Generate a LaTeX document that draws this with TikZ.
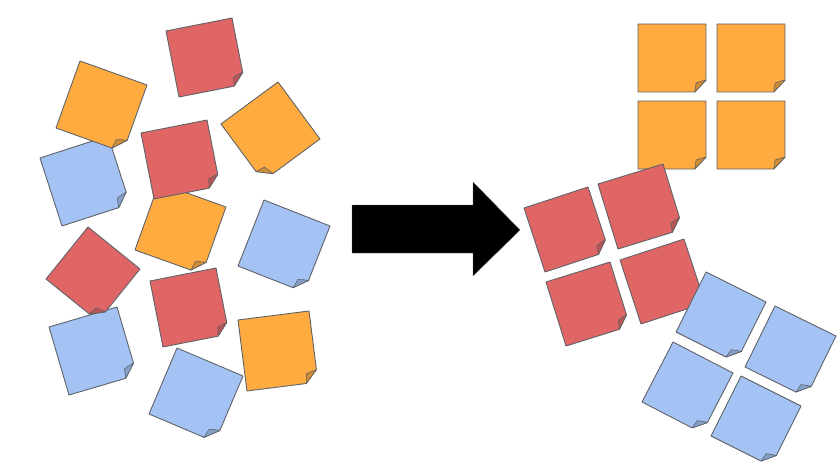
\documentclass[tikz,border=0pt]{standalone}
\definecolor{nred}{HTML}{E06666}
\definecolor{norange}{HTML}{FFAB40}
\definecolor{nblue}{HTML}{A4C2F4}
\definecolor{nline}{HTML}{5F6368}
\tikzset{
  notebody/.style={draw=nline,line width=0.9pt,line join=round},
  notefold/.style={draw=nline,line width=0.6pt,line join=round},
}
% colour, top-left x, y, side vector x, y (picture pixels, y downward)
\newcommand{\stickynote}[5]{%
  \begin{scope}[shift={(#2pt,-#3pt)},x={(#4pt,{-(#5)*1pt})},y={({-(#5)*1pt},{-(#4)*1pt})}]
    \path[notebody,fill=#1] (0,0) -- (1,0) -- (1,.825) -- (.835,1) -- (0,1) -- cycle;
    \path[notefold,fill=#1!82!black] (1,.825) .. controls (.95,.835) and (.9,.85) .. (.855,.868) .. controls (.85,.91) and (.84,.95) .. (.835,1) -- cycle;
  \end{scope}}
\begin{document}
\begin{tikzpicture}[x=1pt,y=1pt]
\useasboundingbox (0,0) rectangle (840,-468);
% left pile
\stickynote{nblue}{40}{158}{68}{-22}
\stickynote{norange}{80}{61}{67}{24}
\stickynote{norange}{159}{183}{67}{24}
\stickynote{nred}{141}{133}{66}{-13}
\stickynote{nred}{166}{31}{66}{-13}
\stickynote{norange}{278}{82}{42}{57}
\stickynote{nblue}{264}{200}{66}{26}
\stickynote{nblue}{49}{327}{68}{-20}
\stickynote{nred}{88}{227}{52}{42}
\stickynote{nred}{150}{281}{66}{-13}
\stickynote{norange}{238}{320}{71}{-9}
\stickynote{nblue}{177}{348}{66}{28}
% arrow
\path[fill=black,draw=black!60,line width=0.3pt] (352,-205) -- (473,-205) -- (473,-182) -- (520,-230) -- (473,-276) -- (473,-253) -- (352,-253) -- cycle;
% sorted orange
\stickynote{norange}{638}{24}{68}{0}
\stickynote{norange}{717}{24}{68}{0}
\stickynote{norange}{638}{101}{68}{0}
\stickynote{norange}{717}{101}{68}{0}
% sorted red
\stickynote{nred}{524}{208}{64}{-21}
\stickynote{nred}{598}{184}{65}{-20}
\stickynote{nred}{546}{282}{64}{-20}
\stickynote{nred}{620}{260}{64}{-21}
% sorted blue
\stickynote{nblue}{706}{272}{60}{30}
\stickynote{nblue}{775}{306}{61}{30}
\stickynote{nblue}{673}{342}{60}{31}
\stickynote{nblue}{741}{376}{60}{30}
\end{tikzpicture}
\end{document}
